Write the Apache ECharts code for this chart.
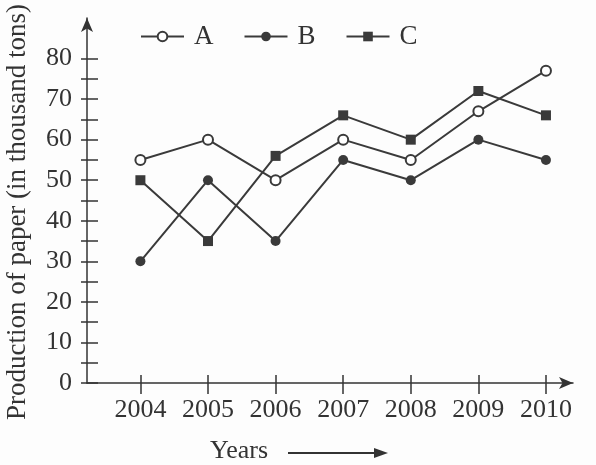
<!DOCTYPE html>
<html>
<head>
<meta charset="utf-8">
<script src="https://cdn.jsdelivr.net/npm/echarts@6/dist/echarts.min.js"></script>
<style>
html, body { margin: 0; padding: 0; background: #fff; }
#chart { width: 596px; height: 465px; }
</style>
</head>
<body>
<div id="chart"></div>
<script>
// values
var years = [2004, 2005, 2006, 2007, 2008, 2009, 2010];
var seriesA = [55, 60, 50, 60, 55, 67, 77];
var seriesB = [30, 50, 35, 55, 50, 60, 55];
var seriesC = [50, 35, 56, 66, 60, 72, 66];
var yTicks = [0, 5, 10, 15, 20, 25, 30, 35, 40, 45, 50, 55, 60, 65, 70, 75, 80];
var yLabels = [0, 10, 20, 30, 40, 50, 60, 70, 80];

var ink = '#333';
var serif = '"Liberation Serif", "DejaVu Serif", serif';

function pairs(vals) {
    return years.map(function (y, i) { return [y, vals[i]]; });
}

var lineStyle = { color: '#3a3a3a', width: 2 };

var option = {
    backgroundColor: '#fdfdfd',
    animation: false,
    grid: { left: 87, right: 23, top: 18, bottom: 82 },
    legend: {
        left: 135,
        top: 18,
        itemWidth: 43,
        itemHeight: 12,
        itemGap: 30,
        textStyle: { fontFamily: serif, fontSize: 27, color: ink, padding: [0, 0, 0, 5] },
        data: ['A', 'B', 'C']
    },
    xAxis: [{
        type: 'value',
        min: 2003.21,
        max: 2010.4,
        position: 'bottom',
        splitLine: { show: false },
        axisLine: { show: true, symbol: ['none', 'arrow'], symbolSize: [9, 14], lineStyle: { color: ink, width: 1.5 } },
        axisTick: { show: true, inside: true, length: 8, customValues: years, lineStyle: { color: ink, width: 1.5 } },
        axisLabel: {
            customValues: years, fontFamily: serif, fontSize: 26, color: ink, margin: 14,
            formatter: function (v) { return String(v); }
        }
    }, {
        type: 'value',
        min: 2003.21,
        max: 2010.4,
        position: 'bottom',
        splitLine: { show: false },
        axisLine: { show: false },
        axisTick: { show: true, length: 11, customValues: years, lineStyle: { color: ink, width: 1.5 } },
        axisLabel: { show: false }
    }],
    yAxis: [{
        type: 'value',
        min: 0,
        max: 90,
        position: 'left',
        splitLine: { show: false },
        axisLine: { show: true, symbol: ['none', 'arrow'], symbolSize: [9, 14], lineStyle: { color: ink, width: 1.5 } },
        axisTick: { show: true, inside: true, length: 11, customValues: yTicks, lineStyle: { color: ink, width: 1.5 } },
        axisLabel: { customValues: yLabels, fontFamily: serif, fontSize: 26, color: ink, margin: 15 }
    }, {
        type: 'value',
        min: 0,
        max: 90,
        position: 'left',
        splitLine: { show: false },
        axisLine: { show: false },
        axisTick: { show: true, length: 6, customValues: yTicks, lineStyle: { color: ink, width: 1.5 } },
        axisLabel: { show: false }
    }],
    graphic: [
        {
            type: 'text', x: 18, y: 212, rotation: Math.PI / 2,
            style: { text: 'Production of paper (in thousand tons)', font: '27px ' + serif, fill: ink, align: 'center', verticalAlign: 'middle' }
        },
        {
            type: 'text', x: 210, y: 451,
            style: { text: 'Years', font: '26px ' + serif, fill: ink, align: 'left', verticalAlign: 'middle' }
        },
        {
            type: 'line', shape: { x1: 288, y1: 453, x2: 378, y2: 453 },
            style: { stroke: ink, lineWidth: 2 }
        },
        {
            type: 'polygon', shape: { points: [[374, 448], [388, 453], [374, 458]] },
            style: { fill: ink }
        }
    ],
    series: [{
        name: 'A',
        type: 'line',
        data: pairs(seriesA),
        symbol: 'emptyCircle',
        symbolSize: 10,
        lineStyle: lineStyle,
        itemStyle: { color: '#3a3a3a', borderWidth: 2 }
    }, {
        name: 'B',
        type: 'line',
        data: pairs(seriesB),
        symbol: 'circle',
        symbolSize: 10,
        lineStyle: lineStyle,
        itemStyle: { color: '#3a3a3a' }
    }, {
        name: 'C',
        type: 'line',
        data: pairs(seriesC),
        symbol: 'rect',
        symbolSize: 10,
        lineStyle: lineStyle,
        itemStyle: { color: '#3a3a3a' }
    }]
};

var mychart = echarts.init(document.getElementById('chart'));
mychart.setOption(option);
</script>
</body>
</html>
